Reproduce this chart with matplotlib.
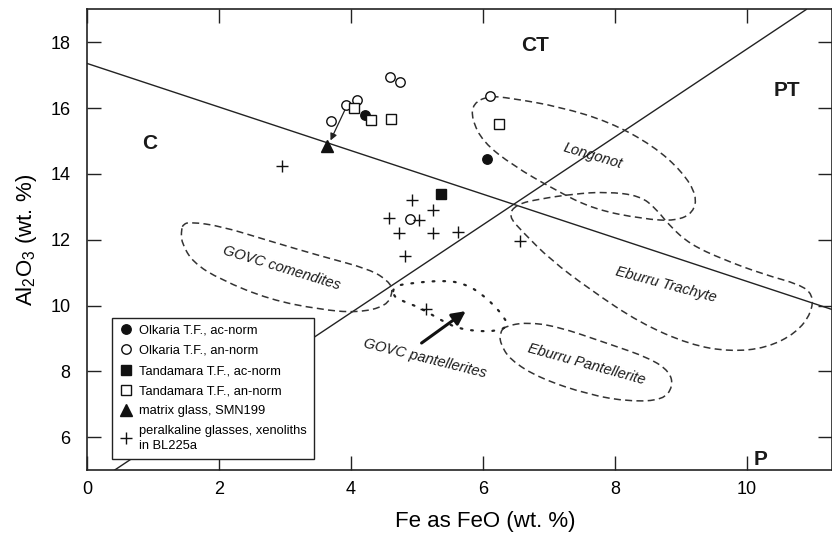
import matplotlib.pyplot as plt
from matplotlib.path import Path
from matplotlib.patches import PathPatch

plt.rcParams['font.family'] = ['Liberation Sans', 'DejaVu Sans']
plt.rcParams['mathtext.default'] = 'regular'

# sample groups (Fe as FeO, Al2O3 in wt. %)
olk_ac_x = [4.21, 6.06]
olk_ac_y = [15.78, 14.44]
olk_an_x = [4.59, 4.74, 4.09, 3.93, 3.70, 6.11, 4.89]
olk_an_y = [16.95, 16.80, 16.24, 16.09, 15.60, 16.37, 12.63]
tan_ac_x = [5.36]
tan_ac_y = [13.38]
tan_an_x = [4.05, 4.30, 4.60, 6.24]
tan_an_y = [16.00, 15.63, 15.66, 15.53]
glass_x = [3.63]
glass_y = [14.85]
per_x = [2.95, 4.93, 5.25, 4.58, 5.03, 4.73, 5.25, 5.62, 4.82, 6.56, 5.14]
per_y = [14.24, 13.21, 12.90, 12.65, 12.60, 12.19, 12.22, 12.24, 11.51, 11.96, 9.90]

# classification boundaries (Macdonald 1974)
line1_x = [0.0, 11.29]
line1_y = [17.36, 9.88]
line2_x = [0.42, 10.9]
line2_y = [5.0, 19.0]

# field outlines
govc_com_x = [1.46, 1.56, 2.02, 2.77, 3.53, 4.29, 4.57, 4.64, 4.54, 4.09, 3.53, 2.77, 2.02, 1.61, 1.43, 1.43]
govc_com_y = [12.47, 12.54, 12.42, 11.96, 11.51, 11.10, 10.74, 10.44, 9.98, 9.78, 9.88, 10.18, 10.79, 11.30, 11.91, 12.32]
longonot_x = [6.08, 6.41, 7.17, 7.92, 8.58, 9.03, 9.24, 9.19, 8.93, 8.43, 7.67, 7.07, 6.46, 6.00, 5.83, 5.85]
longonot_y = [16.37, 16.31, 16.04, 15.58, 14.86, 14.05, 13.34, 12.83, 12.57, 12.63, 12.93, 13.54, 14.25, 14.97, 15.68, 16.14]
eb_tra_x = [6.51, 6.86, 7.37, 7.87, 8.38, 8.63, 8.83, 9.14, 9.64, 10.25, 10.80, 11.00, 10.98, 10.75, 10.30, 9.74,
            9.14, 8.38, 7.62, 7.02, 6.61, 6.38]
eb_tra_y = [13.08, 13.24, 13.39, 13.46, 13.34, 12.93, 12.42, 11.86, 11.40, 10.95, 10.64, 10.34, 9.78, 9.17, 8.71, 8.60,
            8.81, 9.47, 10.49, 11.40, 12.22, 12.73]
eb_pan_x = [6.33, 6.66, 7.12, 7.87, 8.53, 8.83, 8.88, 8.73, 8.23, 7.62, 6.86, 6.41, 6.26, 6.26]
eb_pan_y = [9.37, 9.49, 9.37, 8.86, 8.40, 7.99, 7.54, 7.13, 7.08, 7.28, 7.79, 8.35, 8.86, 9.17]
govc_pan_x = [4.64, 4.94, 5.45, 5.75, 5.95, 6.16, 6.33, 6.38, 6.21, 5.90, 5.60, 5.35, 5.05, 4.79, 4.64]
govc_pan_y = [10.59, 10.69, 10.77, 10.64, 10.39, 10.03, 9.62, 9.37, 9.22, 9.22, 9.32, 9.57, 9.93, 10.13, 10.28]


def closed_curve(xs, ys):
    # smooth closed outline through quadratic segments between midpoints
    pts = list(zip(xs, ys))
    n = len(pts)
    mid = lambda a, b: ((a[0] + b[0]) / 2, (a[1] + b[1]) / 2)
    verts = [mid(pts[-1], pts[0])]
    codes = [Path.MOVETO]
    for i in range(n):
        verts += [pts[i], mid(pts[i], pts[(i + 1) % n])]
        codes += [Path.CURVE3, Path.CURVE3]
    return Path(verts, codes)


fig = plt.figure(figsize=(8.32, 5.33), dpi=100)
ax = fig.add_axes([0.1046, 0.1182, 0.8954, 0.8640])

ax.plot(line1_x, line1_y, color='#222222', lw=1.0, zorder=2)
ax.plot(line2_x, line2_y, color='#222222', lw=1.0, zorder=2)

dash = (0, (4.6, 2.8))
for xs, ys in [(govc_com_x, govc_com_y), (longonot_x, longonot_y),
               (eb_tra_x, eb_tra_y), (eb_pan_x, eb_pan_y)]:
    ax.add_patch(PathPatch(closed_curve(xs, ys), fill=False, ec='#333333',
                           lw=1.1, ls=dash, zorder=2))
ax.add_patch(PathPatch(closed_curve(govc_pan_x, govc_pan_y), fill=False, ec='#222222',
                       lw=1.6, ls=(0, (0.8, 4.0)), capstyle='round', zorder=2))

ms_kw = dict(ls='none', mec='#111111', mew=1.0, zorder=4)
ax.plot(olk_ac_x, olk_ac_y, 'o', ms=6.8, mfc='#111111', label='Olkaria T.F., ac-norm', **ms_kw)
ax.plot(olk_an_x, olk_an_y, 'o', ms=6.8, mfc='white', label='Olkaria T.F., an-norm', **ms_kw)
ax.plot(tan_ac_x, tan_ac_y, 's', ms=6.8, mfc='#111111', label='Tandamara T.F., ac-norm', **ms_kw)
ax.plot(tan_an_x, tan_an_y, 's', ms=6.8, mfc='white', label='Tandamara T.F., an-norm', **ms_kw)
ax.plot(glass_x, glass_y, '^', ms=8.5, mfc='#111111', label='matrix glass, SMN199', **ms_kw)
ax.plot(per_x, per_y, '+', ms=8, label='peralkaline glasses, xenoliths\nin BL225a', **ms_kw)

ax.annotate('', xy=(3.69, 15.02), xytext=(3.93, 16.04),
            arrowprops=dict(arrowstyle='-|>', lw=0.9, color='#222222', mutation_scale=10,
                            shrinkA=0, shrinkB=0), zorder=3)
ax.annotate('', xy=(5.74, 9.83), xytext=(5.07, 8.86),
            arrowprops=dict(arrowstyle='-|>', lw=2.2, color='#111111', mutation_scale=20,
                            shrinkA=0, shrinkB=0), zorder=3)

bold = dict(fontsize=15, fontweight='bold', ha='center', va='center', color='#1a1a1a')
ax.text(0.95, 14.93, 'C', **bold)
ax.text(6.79, 17.92, 'CT', **bold)
ax.text(10.6, 16.55, 'PT', **bold)
ax.text(10.2, 5.32, 'P', **bold)

ital = dict(fontsize=10.5, style='italic', ha='center', va='center', color='#1a1a1a')
ax.text(2.95, 11.15, 'GOVC comendites', rotation=-17, **ital)
ax.text(7.67, 14.56, 'Longonot', rotation=-16.5, **ital)
ax.text(8.78, 10.64, 'Eburru Trachyte', rotation=-15, **ital)
ax.text(7.57, 8.20, 'Eburru Pantellerite', rotation=-15.5, **ital)
ax.text(5.12, 8.40, 'GOVC pantellerites', rotation=-14, **ital)

ax.set_xlim(0, 11.29)
ax.set_ylim(5, 19)
ax.set_xticks([0, 2, 4, 6, 8, 10])
ax.set_yticks([6, 8, 10, 12, 14, 16, 18])
ax.tick_params(direction='in', length=10, width=1.0, top=True, right=True, labelsize=13, color='#222222')
ax.tick_params(axis='x', pad=8)
ax.tick_params(axis='y', pad=12)
for s in ax.spines.values():
    s.set_linewidth(1.2)
    s.set_color('#222222')

ax.set_xlabel('Fe as FeO (wt. %)', fontsize=16)
ax.xaxis.set_label_coords(0.535, -0.088)
ax.set_ylabel('Al$_2$O$_3$ (wt. %)', fontsize=16, labelpad=8)

leg = ax.legend(loc='lower left', bbox_to_anchor=(0.034, 0.024), borderaxespad=0, fontsize=9.3,
                frameon=True, fancybox=False, edgecolor='#222222', framealpha=1,
                handlelength=1.0, handletextpad=0.5, labelspacing=0.62, borderpad=0.55)
leg.get_frame().set_linewidth(1.0)
leg.get_texts()[-1].set_linespacing(1.3)
leg.set_zorder(5)

fig.savefig('out.png', dpi=100)
